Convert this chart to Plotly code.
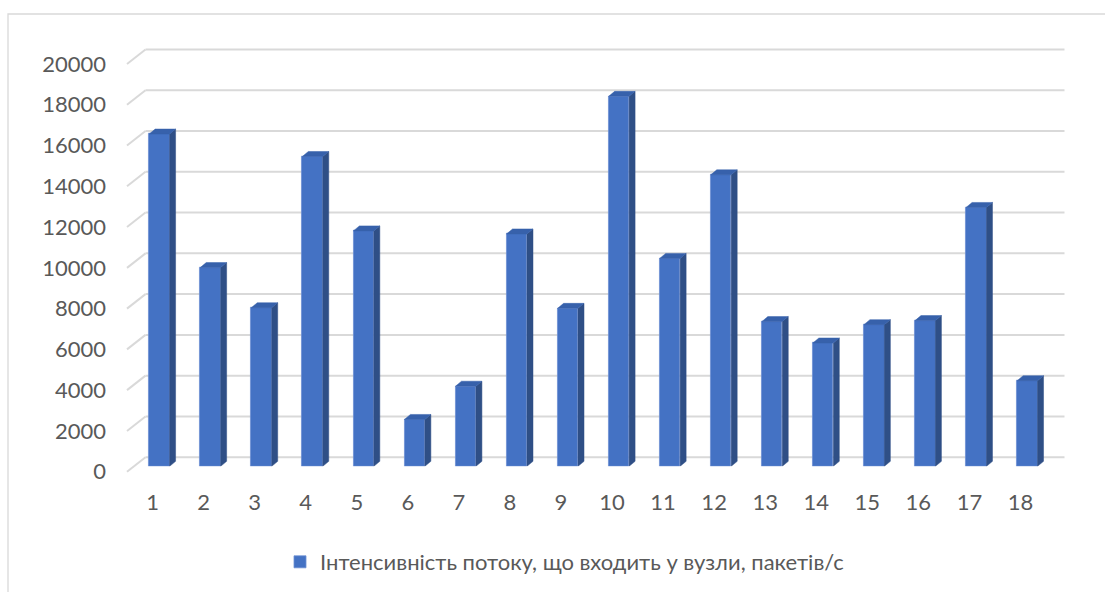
import plotly.graph_objects as go

# ---- data -------------------------------------------------------------
nodes = [str(i) for i in range(1, 19)]
intensity = [16300, 9750, 7780, 15200, 11550, 2300, 3930, 11400, 7750,
             18150, 10200, 14300, 7100, 6050, 6950, 7150, 12700, 4200]
series_name = "Інтенсивність потоку, що входить у вузли, пакетів/с"
y_ticks = list(range(0, 20001, 2000))

# ---- page geometry (pixels) -------------------------------------------
W, H = 1105, 592
FRONT_L, FRONT_R = 127.0, 1046.0      # front edge of the floor
FRONT_Y0, FRONT_YMAX = 471.7, 64.0    # front plane: 0 and 20000
DEPTH_DX, DEPTH_DY = 18.5, -14.5      # shift from front plane to back wall
BAR_DEPTH_POS = 0.37                  # depth at which the bars stand
BAR_WIDTH = 0.4                       # in category units
BAR_DX, BAR_DY = 6.0, 5.0             # bar thickness in pixels (oblique)
Y_MAX = 20000

GRID_COLOR = "#d9d9d9"
TEXT_COLOR = "#595959"
FRONT_COLOR = "#4472c4"
SIDE_COLOR = "#2f4f86"
TOP_COLOR = "#3761ab"
FONT = "Lato, 'Open Sans', sans-serif"
FONT_SIZE = 22


def px(x):
    return x / W


def py(y):
    return 1 - y / H


def plane(depth):
    """Pixel box of a plane parallel to the back wall at given depth."""
    dx, dy = DEPTH_DX * depth, DEPTH_DY * depth
    return (FRONT_L + dx, FRONT_R + dx, FRONT_Y0 + dy, FRONT_YMAX + dy)


n = len(nodes)
xs = list(range(n))

# bar plane (axes x / y)
bl, br, by0, bymax = plane(BAR_DEPTH_POS)
# pixel -> data conversion factors in the bar plane
cat_px = (br - bl) / n
val_per_px = Y_MAX / (by0 - bymax)
ddx = BAR_DX / cat_px
ddy = BAR_DY * val_per_px

fig = go.Figure()

# front faces
fig.add_trace(go.Bar(
    x=xs, y=intensity, width=BAR_WIDTH, name=series_name,
    marker=dict(color=FRONT_COLOR, line=dict(color="#6d8fd3", width=0.8)),
    xaxis="x", yaxis="y", showlegend=True, hoverinfo="y",
))

# side and top faces, built from the same values
side_x, side_y, top_x, top_y = [], [], [], []
for xi, v in zip(xs, intensity):
    r = xi + BAR_WIDTH / 2
    l = xi - BAR_WIDTH / 2
    side_x += [r, r + ddx, r + ddx, r, r, None]
    side_y += [0, ddy, v + ddy, v, 0, None]
    top_x += [l, l + ddx, r + ddx, r, l, None]
    top_y += [v, v + ddy, v + ddy, v, v, None]

fig.add_trace(go.Scatter(
    x=side_x, y=side_y, mode="lines", fill="toself", fillcolor=SIDE_COLOR,
    line=dict(color=SIDE_COLOR, width=0.5), showlegend=False,
    hoverinfo="skip", xaxis="x", yaxis="y",
))
fig.add_trace(go.Scatter(
    x=top_x, y=top_y, mode="lines", fill="toself", fillcolor=TOP_COLOR,
    line=dict(color=TOP_COLOR, width=0.5), showlegend=False,
    hoverinfo="skip", xaxis="x", yaxis="y",
))

# invisible trace to carry the front-plane label axes
fig.add_trace(go.Scatter(
    x=xs, y=[None] * n, mode="markers", showlegend=False,
    hoverinfo="skip", xaxis="x2", yaxis="y2",
))

# ---- gridlines: back wall + left side wall ------------------------------
fl, fr, fy0, fymax = plane(0.0)
kl, kr, ky0, kymax = plane(1.0)
shapes = []
for t in y_ticks:
    fy = fy0 + (fymax - fy0) * t / Y_MAX
    ky = ky0 + (kymax - ky0) * t / Y_MAX
    shapes.append(dict(type="line", xref="paper", yref="paper",
                       x0=px(kl), x1=px(kr), y0=py(ky), y1=py(ky),
                       line=dict(color=GRID_COLOR, width=2), layer="below"))
    shapes.append(dict(type="line", xref="paper", yref="paper",
                       x0=px(fl), x1=px(kl), y0=py(fy), y1=py(ky),
                       line=dict(color=GRID_COLOR, width=2), layer="below"))

# chart area frame
shapes.append(dict(type="rect", xref="paper", yref="paper",
                   x0=px(8), x1=px(W + 10), y0=py(14), y1=py(H + 10),
                   line=dict(color=GRID_COLOR, width=1.3), layer="below"))

hidden = dict(visible=False, fixedrange=True)

fig.update_layout(
    width=W, height=H,
    margin=dict(l=0, r=0, t=0, b=0, pad=0, autoexpand=False),
    paper_bgcolor="white", plot_bgcolor="rgba(0,0,0,0)",
    font=dict(family=FONT, color=TEXT_COLOR, size=FONT_SIZE),
    shapes=shapes,
    bargap=0,
    xaxis=dict(domain=[px(bl), px(br)], range=[-0.5, n - 0.5], anchor="y",
               **hidden),
    yaxis=dict(domain=[py(by0), py(bymax)], range=[0, Y_MAX], anchor="x",
               **hidden),
    xaxis2=dict(domain=[px(fl), px(fr)], range=[-0.5, n - 0.5], anchor="y2",
                tickmode="array", tickvals=xs, ticktext=nodes,
                showgrid=False, zeroline=False, showline=False, ticks="",
                ticklabelstandoff=15, fixedrange=True, automargin=False,
                tickfont=dict(size=FONT_SIZE, color=TEXT_COLOR)),
    yaxis2=dict(domain=[py(fy0), py(fymax)], range=[0, Y_MAX], anchor="x2",
                tickmode="array", tickvals=y_ticks,
                ticktext=[str(t) for t in y_ticks],
                showgrid=False, zeroline=False, showline=False, ticks="",
                ticklabelstandoff=20, fixedrange=True, automargin=False,
                tickfont=dict(size=FONT_SIZE, color=TEXT_COLOR)),
    legend=dict(orientation="h", x=px(280), xanchor="left",
                y=py(562), yanchor="middle",
                font=dict(size=FONT_SIZE, color=TEXT_COLOR),
                bgcolor="rgba(0,0,0,0)"),
    showlegend=True,
)

fig.write_html("out.html")
